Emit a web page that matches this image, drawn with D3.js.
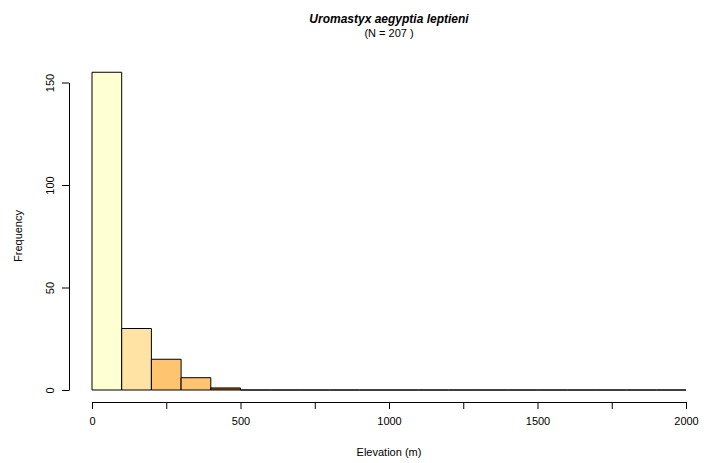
<!DOCTYPE html>
<html><head><meta charset="utf-8">
<script src="https://cdn.jsdelivr.net/npm/d3@7"></script>
<style>body{margin:0;background:#fff}svg{display:block;font-family:"Liberation Sans",Arial,sans-serif}</style>
</head><body>
<svg id="c" width="714" height="463"></svg>
<script>
const binStarts = d3.range(0, 2000, 100);
const counts = [155, 30, 15, 6, 1, 0,0,0,0,0,0,0,0,0,0,0,0,0,0,0];
const barColors = ["#FFFFD4", "#FEE3A4", "#FEC46F", "#FEC46F", "#B35806"];
const xTicks = [0,250,500,750,1000,1250,1500,1750,2000];
const xTickLabels = ["0","","500","","1000","","1500","","2000"];
const yTicks = [0,50,100,150];

const svg = d3.select("#c");
const x = d3.scaleLinear().domain([0,2000]).range([92,686]);
const y = d3.scaleLinear().domain([0,150]).range([390,82.5]);

svg.append("g").selectAll("path").data(binStarts).join("path")
  .attr("d",(d,i)=>{const x0=x(d),x1=x(d+100),y0=y(0),y1=y(counts[i]);
     return `M${x0},${y0}L${x0},${y1}L${x1},${y1}L${x1},${y0}Z`;})
  .attr("fill",(d,i)=>barColors[i]||"#B35806")
  .attr("stroke","#000").attr("stroke-width",1);

const xa = svg.append("g").attr("transform","translate(0,402)")
  .call(d3.axisBottom(x).tickValues(xTicks).tickFormat((d,i)=>xTickLabels[i]).tickSize(7).tickPadding(8).tickSizeOuter(0));
const ya = svg.append("g").attr("transform","translate(69,0)")
  .call(d3.axisLeft(y).tickValues(yTicks).tickSize(7).tickPadding(12).tickSizeOuter(0));
[xa,ya].forEach(a=>{a.select(".domain").attr("stroke","#000");a.selectAll("line").attr("stroke","#000");
  a.selectAll("text").attr("font-size",11).attr("fill","#000").attr("font-family","Liberation Sans, Arial, sans-serif");});
ya.selectAll(".tick text").each(function(){
  const t=d3.select(this); t.attr("x",null).attr("dy",null).attr("text-anchor","middle")
   .attr("transform","translate(-15,0) rotate(-90)");
});

svg.append("text").attr("x",389).attr("y",23).attr("text-anchor","middle")
  .attr("font-size",12).attr("font-weight","bold").attr("font-style","italic").text("Uromastyx aegyptia leptieni");
svg.append("text").attr("x",389).attr("y",37).attr("text-anchor","middle")
  .attr("font-size",11).text("(N = 207 )");
svg.append("text").attr("x",389).attr("y",456).attr("text-anchor","middle")
  .attr("font-size",11).text("Elevation (m)");
svg.append("text").attr("transform","translate(22,236) rotate(-90)").attr("text-anchor","middle")
  .attr("font-size",11).text("Frequency");
</script>
</body></html>
